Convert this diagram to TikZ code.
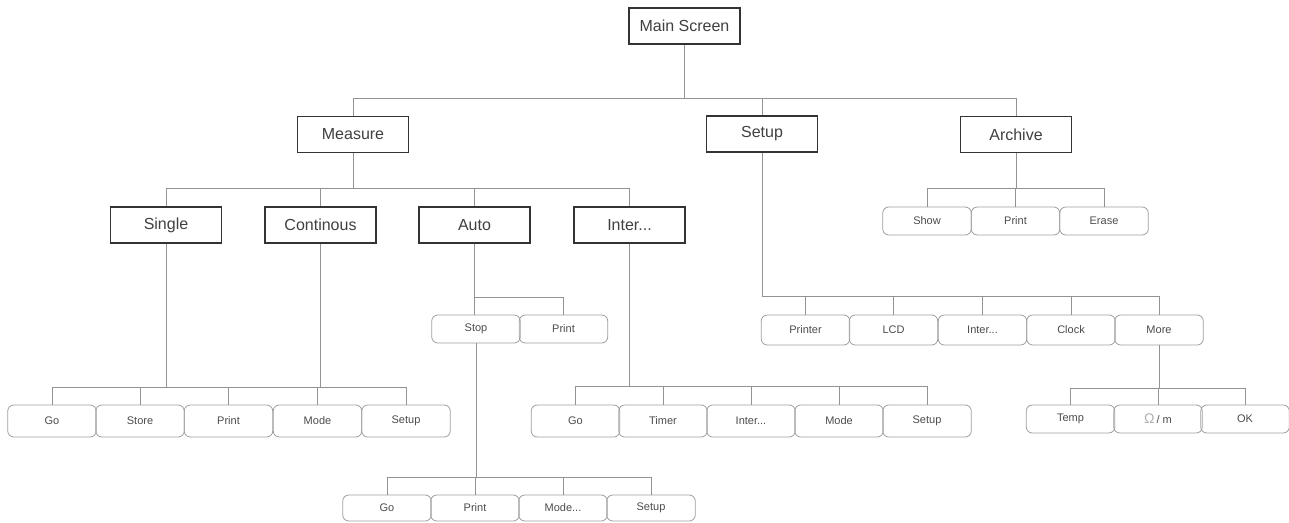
\documentclass[tikz,border=0pt]{standalone}
\usepackage{fontspec}
\setmainfont{Liberation Sans}
\begin{document}
\begin{tikzpicture}[x=1pt,y=-1pt,
  mbox/.style={draw=black!80,line width=1.6pt,minimum width=111pt,minimum height=36pt,inner sep=0pt,font=\fontsize{16}{18}\selectfont,text=black!75},
  btn/.style={draw=gray!75,line width=0.8pt,rounded corners=6pt,minimum width=88.5pt,minimum height=29pt,inner sep=0pt,font=\fontsize{11}{13}\selectfont,text=black!70},
  conn/.style={draw=gray!85,line width=0.9pt}]
\useasboundingbox[fill=white] (0,0) rectangle (1289,522);
% main boxes
\node[mbox] (main) at (684.5,26) {Main Screen};
\node[mbox] (measure) at (353,134.5) {Measure};
\node[mbox] (setup) at (762,134) {Setup};
\node[mbox] (archive) at (1016,134.5) {Archive};
\node[mbox] (single) at (166,225) {Single};
\node[mbox] (cont) at (320.5,225) {Continous};
\node[mbox] (auto) at (474.5,225) {Auto};
\node[mbox] (inter) at (629.5,225) {Inter...};
% archive buttons
\node[btn,minimum height=28pt] (show) at (927,221) {Show};
\node[btn,minimum height=28pt] (aprint) at (1015.5,221) {Print};
\node[btn,minimum height=28pt] (erase) at (1104,221) {Erase};
% single/continous buttons
\node[btn,minimum height=32pt] (goA) at (52,421) {Go};
\node[btn,minimum height=32pt] (storeA) at (140,421) {Store};
\node[btn,minimum height=32pt] (printA) at (228.5,421) {Print};
\node[btn,minimum height=32pt] (modeA) at (317.5,421) {Mode};
\node[btn,minimum height=32pt] (setupA) at (406,421) {Setup};
% auto buttons
\node[btn,minimum height=28pt] (stop) at (476,329) {Stop};
\node[btn,minimum height=28pt] (printS) at (563.5,329) {Print};
% stop buttons
\node[btn,minimum height=26pt] (goB) at (387,508) {Go};
\node[btn,minimum height=26pt] (printB) at (475,508) {Print};
\node[btn,minimum height=26pt] (modeB) at (563,508) {Mode...};
\node[btn,minimum height=26pt] (setupB) at (651,508) {Setup};
% inter buttons
\node[btn,minimum height=32pt] (goC) at (575.5,421) {Go};
\node[btn,minimum height=32pt] (timerC) at (663,421) {Timer};
\node[btn,minimum height=32pt] (interC) at (751,421) {Inter...};
\node[btn,minimum height=32pt] (modeC) at (839,421) {Mode};
\node[btn,minimum height=32pt] (setupC) at (927,421) {Setup};
% setup buttons
\node[btn,minimum height=30pt] (printer) at (805.5,330) {Printer};
\node[btn,minimum height=30pt] (lcd) at (893.5,330) {LCD};
\node[btn,minimum height=30pt] (interD) at (982.5,330) {Inter...};
\node[btn,minimum height=30pt] (clock) at (1071,330) {Clock};
\node[btn,minimum height=30pt] (more) at (1159,330) {More};
% more buttons
\node[btn,minimum height=28pt] (temp) at (1070.5,419) {Temp};
\node[btn,minimum height=28pt] (ohm) at (1158,419) {{\color{black!30}\fontsize{14}{14}\selectfont Ω}\,/ m};
\node[btn,minimum height=28pt] (ok) at (1245,419) {OK};
% bus coordinates
\coordinate (b1) at (0,98);
\coordinate (b2) at (0,188);
\coordinate (b3) at (0,188);
\coordinate (b4) at (0,387);
\coordinate (b5) at (0,297);
\coordinate (b6) at (0,477);
\coordinate (b7) at (0,386);
\coordinate (b8) at (0,296);
\coordinate (b9) at (0,388);
% main level
\draw[conn] (main.south) -- (main.south |- b1);
\draw[conn] (measure.north) |- (archive.north |- b1) -- (archive.north);
\draw[conn] (setup.north) -- (setup.north |- b1);
% measure level
\draw[conn] (measure.south) -- (measure.south |- b2);
\draw[conn] (single.north) |- (inter.north |- b2) -- (inter.north);
\draw[conn] (cont.north) -- (cont.north |- b2);
\draw[conn] (auto.north) -- (auto.north |- b2);
% archive level
\draw[conn] (archive.south) -- (archive.south |- b3);
\draw[conn] (show.north) |- (erase.north |- b3) -- (erase.north);
\draw[conn] (aprint.north) -- (aprint.north |- b3);
% single/continous
\draw[conn] (single.south) -- (single.south |- b4);
\draw[conn] (cont.south) -- (cont.south |- b4);
\draw[conn] (goA.north) |- (setupA.north |- b4) -- (setupA.north);
\draw[conn] (storeA.north) -- (storeA.north |- b4);
\draw[conn] (printA.north) -- (printA.north |- b4);
\draw[conn] (modeA.north) -- (modeA.north |- b4);
% auto
\draw[conn] (auto.south) -- (auto.south |- stop.north);
\draw[conn] (auto.south |- b5) -| (printS.north);
% stop
\draw[conn] (stop.south) -- (stop.south |- b6);
\draw[conn] (goB.north) |- (setupB.north |- b6) -- (setupB.north);
\draw[conn] (printB.north) -- (printB.north |- b6);
\draw[conn] (modeB.north) -- (modeB.north |- b6);
% inter
\draw[conn] (inter.south) -- (inter.south |- b7);
\draw[conn] (goC.north) |- (setupC.north |- b7) -- (setupC.north);
\draw[conn] (timerC.north) -- (timerC.north |- b7);
\draw[conn] (interC.north) -- (interC.north |- b7);
\draw[conn] (modeC.north) -- (modeC.north |- b7);
% setup
\draw[conn] (setup.south) |- (more.north |- b8) -- (more.north);
\draw[conn] (printer.north) -- (printer.north |- b8);
\draw[conn] (lcd.north) -- (lcd.north |- b8);
\draw[conn] (interD.north) -- (interD.north |- b8);
\draw[conn] (clock.north) -- (clock.north |- b8);
% more
\draw[conn] (more.south) -- (more.south |- b9);
\draw[conn] (temp.north) |- (ok.north |- b9) -- (ok.north);
\draw[conn] (ohm.north) -- (ohm.north |- b9);
\end{tikzpicture}
\end{document}
